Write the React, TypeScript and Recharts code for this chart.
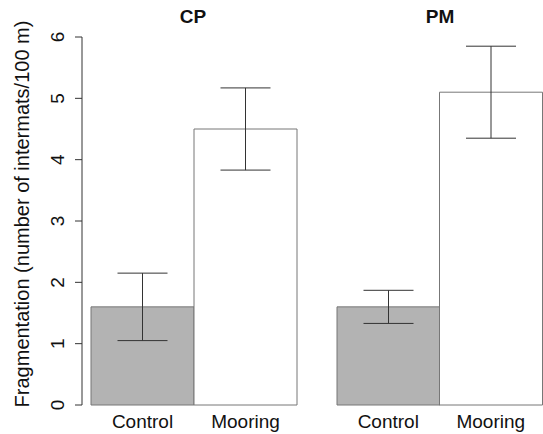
import React from 'react';
import { BarChart, Bar, XAxis, YAxis, ErrorBar, Cell } from 'recharts';

const treatments = ['Control', 'Mooring'];
const cpMean = [1.6, 4.5];
const cpLow = [1.05, 3.83];
const cpHigh = [2.15, 5.17];
const pmMean = [1.6, 5.1];
const pmLow = [1.33, 4.35];
const pmHigh = [1.87, 5.85];
const yTicks = [0, 1, 2, 3, 4, 5, 6];
const fills = ['#b3b3b3', '#ffffff'];

const FONT = '"Liberation Sans", Arial, sans-serif';
const W = 543;
const H = 434;

function build(mean: number[], low: number[], high: number[]) {
  return treatments.map((t, i) => ({
    name: t,
    value: mean[i],
    err: [mean[i] - low[i], high[i] - mean[i]],
  }));
}

const cpData = build(cpMean, cpLow, cpHigh);
const pmData = build(pmMean, pmLow, pmHigh);

const XTick = (props: any) => (
  <text x={props.x} y={props.y + 23} textAnchor="middle" fontSize={19} fontFamily={FONT} fill="#111">
    {props.payload.value}
  </text>
);

const YTick = (props: any) => {
  const x = props.x - 9;
  return (
    <text
      x={x}
      y={props.y}
      transform={`rotate(-90 ${x} ${props.y})`}
      textAnchor="middle"
      fontSize={19}
      fontFamily={FONT}
      fill="#111"
    >
      {props.payload.value}
    </text>
  );
};

function Panel({ data, left, right, showY }: { data: any[]; left: number; right: number; showY: boolean }) {
  return (
    <div style={{ position: 'absolute', left: 0, top: 0 }}>
      <BarChart
        width={W}
        height={H}
        data={data}
        margin={{ top: 37, right, bottom: 0, left }}
        barCategoryGap={0}
        barGap={0}
      >
        <XAxis
          dataKey="name"
          height={29}
          axisLine={false}
          tickLine={false}
          tickSize={0}
          tickMargin={0}
          padding={showY ? { left: 9, right: 0 } : { left: 0, right: 0 }}
          tick={<XTick />}
          interval={0}
        />
        <YAxis
          hide={!showY}
          width={82}
          domain={[0, 6]}
          ticks={yTicks}
          tickSize={7}
          tickMargin={2}
          stroke="#333"
          tick={<YTick />}
          interval={0}
        />
        <Bar dataKey="value" stroke="#777" strokeWidth={1} isAnimationActive={false}>
          {data.map((d, i) => (
            <Cell key={`c-${i}`} fill={fills[i % fills.length]} />
          ))}
          <ErrorBar dataKey="err" width={25} stroke="#333" strokeWidth={1} isAnimationActive={false} />
        </Bar>
      </BarChart>
    </div>
  );
}

export default function App() {
  return (
    <div style={{ position: 'absolute', left: 0, top: 0, width: W, height: H, background: '#fff' }}>
      <Panel data={cpData} left={0} right={W - 297} showY />
      <Panel data={pmData} left={337} right={1} showY={false} />
      <svg width={W} height={H} style={{ position: 'absolute', left: 0, top: 0, pointerEvents: 'none' }}>
        <text x={193} y={23} textAnchor="middle" fontSize={19} fontWeight="bold" fontFamily={FONT} fill="#111">
          CP
        </text>
        <text x={440} y={23} textAnchor="middle" fontSize={19} fontWeight="bold" fontFamily={FONT} fill="#111">
          PM
        </text>
        <text
          x={29}
          y={214}
          transform="rotate(-90 29 214)"
          textAnchor="middle"
          fontSize={20}
          fontFamily={FONT}
          fill="#111"
        >
          Fragmentation (number of intermats/100 m)
        </text>
      </svg>
    </div>
  );
}
